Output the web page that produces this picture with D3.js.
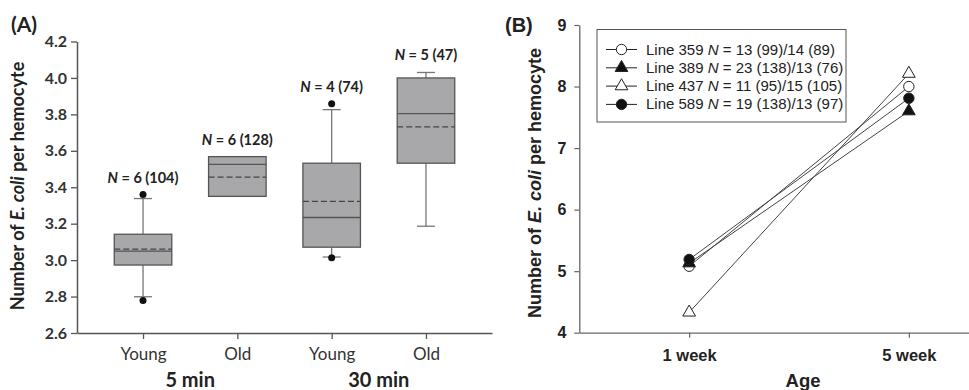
<!DOCTYPE html>
<html>
<head>
<meta charset="utf-8">
<script src="https://cdn.jsdelivr.net/npm/d3@7"></script>
<style>
  body { margin: 0; background: #fff; }
  svg { display: block; }
</style>
</head>
<body>
<svg id="chart" width="969" height="390"></svg>
<script>
// panel A data (box plots)
const catsA = ["Young", "Old", "Young", "Old"];
const groupsA = ["5 min", "30 min"];
const q1 = [2.973, 3.35, 3.071, 3.532];
const q3 = [3.142, 3.568, 3.532, 4.0];
const medians = [3.049, 3.526, 3.234, 3.804];
const means = [3.06, 3.456, 3.323, 3.731];
const whiskLow = [2.799, null, 3.017, 3.186];
const whiskHigh = [3.338, null, 3.826, 4.03];
const outliers = [[3.36, 2.779], [], [3.858, 3.013], []];
const nLabels = ["6 (104)", "6 (128)", "4 (74)", "5 (47)"];
const ticksA = [2.6, 2.8, 3.0, 3.2, 3.4, 3.6, 3.8, 4.0, 4.2];

// panel B data (lines)
const ages = ["1 week", "5 week"];
const lineNames = ["Line 359", "Line 389", "Line 437", "Line 589"];
const lineN = ["13 (99)/14 (89)", "23 (138)/13 (76)", "11 (95)/15 (105)", "19 (138)/13 (97)"];
const week1 = [5.08, 5.13, 4.33, 5.19];
const week5 = [8.0, 7.6, 8.21, 7.81];
const ticksB = [4, 5, 6, 7, 8, 9];

const svg = d3.select("#chart");
const fontA = "Lato, 'Open Sans', sans-serif";
const fontB = "'Liberation Sans', Arial, sans-serif";

// ---------- panel A ----------
const gA = svg.append("g");
const xA = d3.scalePoint().domain(d3.range(catsA.length)).range([77, 492]).padding(0.7);
const yA = d3.scaleLinear().domain([2.6, 4.2]).range([333, 41.5]);
const boxW = xA.step() * 0.61;

const axLeftA = gA.append("g").attr("transform", "translate(77,0)")
  .call(d3.axisLeft(yA).tickValues(ticksA).tickFormat(d3.format(".1f")).tickSize(6).tickSizeOuter(0).tickPadding(4));
const axBotA = gA.append("g").attr("transform", "translate(0,333)")
  .call(d3.axisBottom(xA).tickSize(6).tickSizeOuter(0).tickFormat(i => catsA[i]).tickPadding(7));
[axLeftA, axBotA].forEach(a => {
  a.select(".domain").attr("stroke", "#555").attr("stroke-width", 1.5);
  a.selectAll(".tick line").attr("stroke", "#555").attr("stroke-width", 1.3);
  a.selectAll("text").attr("fill", "#333").style("font-family", fontA);
});
axLeftA.selectAll("text").style("font-size", "16px").style("font-weight", "bold");
axBotA.selectAll("text").style("font-size", "17px").attr("dy", "0.8em");

// group labels
groupsA.forEach((g, i) => {
  const cx = (xA(i * 2) + xA(i * 2 + 1)) / 2;
  gA.append("text").attr("x", cx).attr("y", 387).attr("text-anchor", "middle")
    .style("font-family", fontA).style("font-size", "20px").style("font-weight", "bold")
    .attr("fill", "#222").text(g);
});

const boxes = gA.append("g").selectAll("g").data(d3.range(catsA.length)).enter().append("g");
boxes.each(function(i) {
  const g = d3.select(this);
  const cx = xA(i);
  if (whiskHigh[i] != null) {
    g.append("line").attr("x1", cx).attr("x2", cx).attr("y1", yA(q3[i])).attr("y2", yA(whiskHigh[i]))
      .attr("stroke", "#777").attr("stroke-width", 1.3);
    g.append("line").attr("x1", cx - 9).attr("x2", cx + 9).attr("y1", yA(whiskHigh[i])).attr("y2", yA(whiskHigh[i]))
      .attr("stroke", "#777").attr("stroke-width", 1.3);
  }
  if (whiskLow[i] != null) {
    g.append("line").attr("x1", cx).attr("x2", cx).attr("y1", yA(q1[i])).attr("y2", yA(whiskLow[i]))
      .attr("stroke", "#777").attr("stroke-width", 1.3);
    g.append("line").attr("x1", cx - 9).attr("x2", cx + 9).attr("y1", yA(whiskLow[i])).attr("y2", yA(whiskLow[i]))
      .attr("stroke", "#777").attr("stroke-width", 1.3);
  }
  g.append("rect").attr("x", cx - boxW / 2).attr("y", yA(q3[i]))
    .attr("width", boxW).attr("height", yA(q1[i]) - yA(q3[i]))
    .attr("fill", "#a8a8aa").attr("stroke", "#555").attr("stroke-width", 1.3);
  g.append("line").attr("x1", cx - boxW / 2).attr("x2", cx + boxW / 2)
    .attr("y1", yA(medians[i])).attr("y2", yA(medians[i]))
    .attr("stroke", "#555").attr("stroke-width", 1.3);
  g.append("line").attr("x1", cx - boxW / 2).attr("x2", cx + boxW / 2)
    .attr("y1", yA(means[i])).attr("y2", yA(means[i]))
    .attr("stroke", "#444").attr("stroke-width", 1.3).attr("stroke-dasharray", "6,3");
  outliers[i].forEach(o => {
    g.append("circle").attr("cx", cx).attr("cy", yA(o)).attr("r", 3.5).attr("fill", "#111");
  });
  // N label above topmost element
  const top = d3.max([q3[i], whiskHigh[i] || 0, d3.max(outliers[i]) || 0]);
  const lbl = g.append("text").attr("x", cx).attr("y", yA(top) - 12).attr("text-anchor", "middle")
    .style("font-family", fontA).style("font-size", "14.5px").style("font-weight", "bold").attr("fill", "#222");
  lbl.append("tspan").style("font-style", "italic").text("N");
  lbl.append("tspan").text(" = " + nLabels[i]);
});

gA.append("text").attr("transform", "translate(24,186) rotate(-90)").attr("text-anchor", "middle")
  .style("font-family", fontA).style("font-size", "18px").style("font-weight", "bold").attr("fill", "#222")
  .call(t => {
    t.append("tspan").text("Number of ");
    t.append("tspan").style("font-style", "italic").text("E. coli");
    t.append("tspan").text(" per hemocyte");
  });
gA.append("text").attr("x", 11).attr("y", 32).style("font-family", fontA).style("font-size", "21px")
  .style("font-weight", "bold").attr("fill", "#222").text("(A)");

// ---------- panel B ----------
const gB = svg.append("g");
const xB = d3.scalePoint().domain(ages).range([579.3, 1018.7]).padding(0.5);
const yB = d3.scaleLinear().domain([4, 9]).range([332.7, 25]);

const axLeftB = gB.append("g").attr("transform", "translate(579.3,0)")
  .call(d3.axisLeft(yB).tickValues(ticksB).tickFormat(d3.format("d")).tickSize(5).tickSizeOuter(0).tickPadding(8));
const axBotB = gB.append("g").attr("transform", "translate(0,332.7)")
  .call(d3.axisBottom(xB).tickSize(5).tickSizeOuter(0).tickPadding(10));
[axLeftB, axBotB].forEach(a => {
  a.select(".domain").attr("stroke", "#666").attr("stroke-width", 1.3);
  a.selectAll(".tick line").attr("stroke", "#666").attr("stroke-width", 1.2);
  a.selectAll("text").attr("fill", "#222").style("font-family", fontB)
    .style("font-size", "16px").style("font-weight", "bold");
});
axBotB.selectAll("text").style("font-size", "16.5px").attr("dy", "0.8em");

gB.append("text").attr("x", (xB(ages[0]) + xB(ages[1])) / 2 + 4).attr("y", 387).attr("text-anchor", "middle")
  .style("font-family", fontB).style("font-size", "18.5px").style("font-weight", "bold").attr("fill", "#222").text("Age");

gB.append("text").attr("transform", "translate(541,183) rotate(-90)").attr("text-anchor", "middle")
  .style("font-family", fontB).style("font-size", "18px").style("font-weight", "bold").attr("fill", "#222")
  .call(t => {
    t.append("tspan").text("Number of ");
    t.append("tspan").style("font-style", "italic").text("E. coli");
    t.append("tspan").text(" per hemocyte");
  });
gB.append("text").attr("x", 505).attr("y", 32).style("font-family", fontB).style("font-size", "20px")
  .style("font-weight", "bold").attr("fill", "#222").text("(B)");

const markerTypes = [
  { sym: d3.symbolCircle, fill: "#fff", size: 85 },
  { sym: d3.symbolTriangle, fill: "#111", size: 70 },
  { sym: d3.symbolTriangle, fill: "#fff", size: 70 },
  { sym: d3.symbolCircle, fill: "#111", size: 85 }
];
const drawMarker = (g, i, x, y) => {
  const m = markerTypes[i];
  g.append("path").attr("d", d3.symbol().type(m.sym).size(m.size)())
    .attr("transform", `translate(${x},${y})`)
    .attr("fill", m.fill).attr("stroke", "#222").attr("stroke-width", 1);
};

const linesG = gB.append("g");
lineNames.forEach((n, i) => {
  linesG.append("path")
    .attr("d", d3.line()([[xB(ages[0]), yB(week1[i])], [xB(ages[1]), yB(week5[i])]]))
    .attr("stroke", "#444").attr("stroke-width", 1).attr("fill", "none");
});
lineNames.forEach((n, i) => {
  drawMarker(linesG, i, xB(ages[0]), yB(week1[i]));
  drawMarker(linesG, i, xB(ages[1]), yB(week5[i]));
});

// legend
const leg = gB.append("g");
leg.append("rect").attr("x", 597).attr("y", 29.5).attr("width", 249).attr("height", 92.5)
  .attr("fill", "#fff").attr("stroke", "#555").attr("stroke-width", 1);
lineNames.forEach((n, i) => {
  const y = 49.5 + i * 18.3;
  leg.append("line").attr("x1", 606).attr("x2", 637).attr("y1", y).attr("y2", y)
    .attr("stroke", "#222").attr("stroke-width", 1);
  drawMarker(leg, i, 621.5, y);
  const t = leg.append("text").attr("x", 646).attr("y", y + 5)
    .style("font-family", fontB).style("font-size", "15px").attr("fill", "#222");
  t.append("tspan").text(n + " ");
  t.append("tspan").style("font-style", "italic").text("N");
  t.append("tspan").text(" = " + lineN[i]);
});
</script>
</body>
</html>
